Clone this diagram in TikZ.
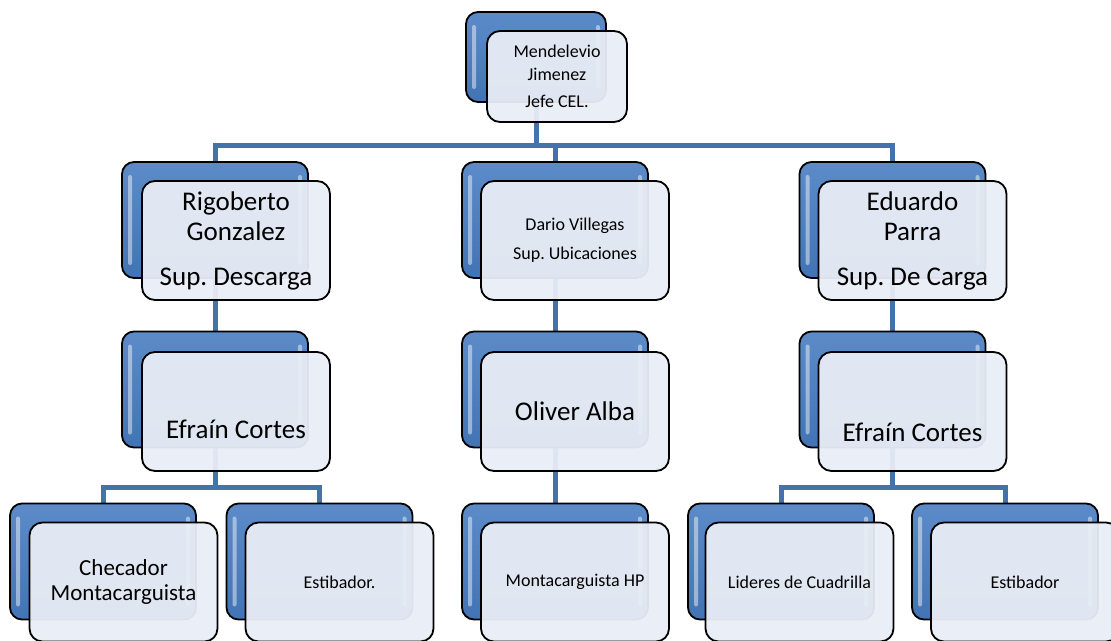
\documentclass[tikz,border=0pt]{standalone}
\usepackage{fontspec}
\setmainfont{Carlito}
\usetikzlibrary{backgrounds}
\frenchspacing

\definecolor{backtop}{RGB}{92,139,200}
\definecolor{backbot}{RGB}{66,115,180}
\definecolor{frontfill}{RGB}{233,237,245}
\definecolor{linkblue}{RGB}{68,114,170}

\tikzset{
  back/.style={draw=black,line width=1.8pt,rounded corners=12pt,
    top color=backtop,bottom color=backbot,
    minimum width=186pt,minimum height=116pt,
    path picture={
      \fill[white,opacity=.45,rounded corners=2pt]
        ([xshift=6pt,yshift=-13pt]path picture bounding box.north west) rectangle
        ([xshift=10pt,yshift=13pt]path picture bounding box.south west);
      \fill[white,opacity=.45,rounded corners=2pt]
        ([xshift=-10pt,yshift=-13pt]path picture bounding box.north east) rectangle
        ([xshift=-6pt,yshift=13pt]path picture bounding box.south east);
    }},
  front/.style={draw=black,line width=1.8pt,rounded corners=13pt,
    fill=frontfill,fill opacity=.95,text opacity=1,align=center,inner sep=1pt,
    minimum width=188pt,minimum height=119pt},
  big/.style={font=\fontsize{27}{30}\selectfont},
  mid/.style={font=\fontsize{23}{25}\selectfont},
  small/.style={font=\fontsize{18}{23}\selectfont},
  drop/.style={text height=#1},
  link/.style={draw=linkblue,line width=5pt},
}

\begin{document}
\begin{tikzpicture}[x=1pt,y=-1pt]
\path[use as bounding box] (0,0) rectangle (1111,640);

% jefe
\node[back,minimum width=140pt,minimum height=90pt] (jefe-b) at (536,57) {};
\node[front,small,minimum width=140pt,minimum height=91pt] (jefe) at (557,76.5) {Mendelevio\\Jimenez\\[4pt]Jefe CEL.};

% supervisores
\node[back] (rigo-b) at (215,220) {};
\node[front,big] (rigo) at (236,240.5) {Rigoberto\\Gonzalez\\[15pt]Sup. Descarga};
\node[back] (dario-b) at (555,220) {};
\node[front,small] (dario) at (575,240.5) {Dario Villegas\\[6pt]Sup. Ubicaciones};
\node[back] (eduardo-b) at (892.5,220) {};
\node[front,big] (eduardo) at (912.5,240.5) {Eduardo\\Parra\\[15pt]Sup. De Carga};

% tercer nivel
\node[back] (efrain1-b) at (215,389.5) {};
\node[front,big,drop=54pt] (efrain1) at (236,411.5) {Efraín Cortes};
\node[back] (oliver-b) at (555,389.5) {};
\node[front,big] (oliver) at (575,411.5) {Oliver Alba};
\node[back] (efrain2-b) at (892.5,389.5) {};
\node[front,big,drop=60pt] (efrain2) at (912.5,411.5) {Efraín Cortes};

% cuarto nivel
\node[back] (checador-b) at (103,561.5) {};
\node[front,mid] (checador) at (123.5,582) {Checador\\Montacarguista};
\node[back] (estiba1-b) at (319.5,561.5) {};
\node[front,small] (estiba1) at (339.5,582) {Estibador.};
\node[back] (montac-b) at (555,561.5) {};
\node[front,small] (montac) at (575,582) {Montacarguista HP};
\node[back] (lideres-b) at (781,561.5) {};
\node[front,small] (lideres) at (799.5,582) {Lideres de Cuadrilla};
\node[back] (estiba2-b) at (1005,561.5) {};
\node[front,small] (estiba2) at (1025,582) {Estibador};

\coordinate (bus1) at (0,145);
\coordinate (bus2) at (0,487);

\begin{scope}[on background layer]
\draw[link] (jefe-b.south) -- (jefe-b.south |- bus1) -| (rigo-b.north);
\draw[link] (jefe-b.south |- bus1) -| (dario-b.north);
\draw[link] (jefe-b.south |- bus1) -| (eduardo-b.north);
\draw[link] (rigo-b) -- (efrain1-b);
\draw[link] (dario-b) -- (oliver-b);
\draw[link] (eduardo-b) -- (efrain2-b);
\draw[link] (efrain1-b.south) -- (efrain1-b.south |- bus2) -| (checador-b.north);
\draw[link] (efrain1-b.south |- bus2) -| (estiba1-b.north);
\draw[link] (oliver-b) -- (montac-b);
\draw[link] (efrain2-b.south) -- (efrain2-b.south |- bus2) -| (lideres-b.north);
\draw[link] (efrain2-b.south |- bus2) -| (estiba2-b.north);
\end{scope}
\end{tikzpicture}
\end{document}
